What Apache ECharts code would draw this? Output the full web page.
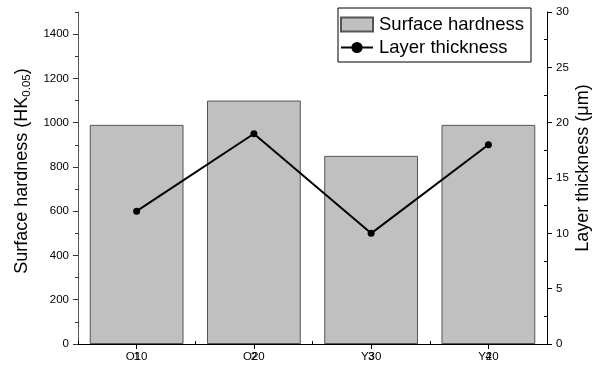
<!DOCTYPE html>
<html>
<head>
<meta charset="utf-8">
<script src="https://cdn.jsdelivr.net/npm/echarts@6/dist/echarts.min.js"></script>
<style>
html,body{margin:0;padding:0;background:#fff;}
#chart{width:595px;height:367px;}
</style>
</head>
<body>
<div id="chart"></div>
<script>
const categories = ['O10', 'O20', 'Y30', 'Y20'];
const overlayLabels = ['1', '2', '3', '4'];
const hardness = [990, 1100, 850, 990];
const thickness = [12, 19, 10, 18];
const leftLabels = [0, 200, 400, 600, 800, 1000, 1200, 1400];
const leftMinor = [100, 300, 500, 700, 900, 1100, 1300, 1500];
const rightLabels = [0, 5, 10, 15, 20, 25, 30];
const rightMinor = [2.5, 7.5, 12.5, 17.5, 22.5, 27.5];

const FONT = 'Liberation Sans, Arial, sans-serif';
const chart = echarts.init(document.getElementById('chart'), null, {renderer: 'canvas'});
const plain = v => String(v);

const option = {
  animation: false,
  backgroundColor: '#fff',
  grid: {left: 78, right: 48, top: 12, bottom: 23, containLabel: false, outerBoundsMode: 'none'},
  legend: {
    orient: 'vertical',
    left: 338, top: 8,
    padding: [7, 7, 5, 2],
    itemGap: 4,
    itemWidth: 32, itemHeight: 14,
    borderColor: '#000', borderWidth: 1,
    backgroundColor: '#fff',
    textStyle: {fontFamily: FONT, fontSize: 18.5, color: '#000', padding: [0, 0, 0, 1]},
    data: [{name: 'Surface hardness', icon: 'rect'}, {name: 'Layer thickness'}]
  },
  xAxis: [
    {
      type: 'category', data: categories, position: 'bottom',
      axisLine: {show: true, lineStyle: {color: '#000', width: 1}},
      axisTick: {show: true, alignWithLabel: true, inside: false, length: 5, lineStyle: {color: '#000'}},
      axisLabel: {fontFamily: FONT, fontSize: 11.5, color: '#000', margin: 7},
      splitLine: {show: false}
    },
    {
      type: 'category', data: overlayLabels, position: 'bottom',
      axisLine: {show: false},
      axisTick: {show: true, inside: true, length: 3, lineStyle: {color: '#000'}},
      axisLabel: {fontFamily: FONT, fontSize: 11.5, color: '#000', margin: 7},
      splitLine: {show: false}
    }
  ],
  yAxis: [
    {
      type: 'value', position: 'left', min: 0, max: 1500,
      name: '{a|Surface hardness (HK}{s|0.05}{a|)}',
      nameLocation: 'middle', nameRotate: 90, nameGap: 45, nameMoveOverlap: false,
      nameTextStyle: {padding: [0, 0, 0, 14], rich: {
        a: {fontFamily: FONT, fontSize: 18, color: '#000'},
        s: {fontFamily: FONT, fontSize: 11.5, color: '#000', verticalAlign: 'bottom', padding: [10, 0, 0, 0]}
      }},
      axisLine: {show: true, lineStyle: {color: '#555', width: 1}},
      axisTick: {show: true, inside: false, length: 5, customValues: leftLabels, lineStyle: {color: '#333'}},
      axisLabel: {fontFamily: FONT, fontSize: 11.5, color: '#000', margin: 9, customValues: leftLabels, formatter: plain},
      splitLine: {show: false}
    },
    {
      type: 'value', position: 'right', min: 0, max: 30,
      name: 'Layer thickness (μm)',
      nameLocation: 'middle', nameRotate: 90, nameGap: 27, nameMoveOverlap: false,
      nameTextStyle: {fontFamily: FONT, fontSize: 18, color: '#000', padding: [0, 0, 0, 20]},
      axisLine: {show: true, lineStyle: {color: '#000', width: 1}},
      axisTick: {show: true, inside: false, length: 5, customValues: rightLabels, lineStyle: {color: '#000'}},
      axisLabel: {fontFamily: FONT, fontSize: 11.5, color: '#000', margin: 9, customValues: rightLabels, formatter: plain},
      splitLine: {show: false}
    },
    {
      type: 'value', position: 'left', min: 0, max: 1500,
      axisLine: {show: false},
      axisTick: {show: true, inside: false, length: 3, customValues: leftMinor, lineStyle: {color: '#333'}},
      axisLabel: {show: false},
      splitLine: {show: false}
    },
    {
      type: 'value', position: 'right', min: 0, max: 30,
      axisLine: {show: false},
      axisTick: {show: true, inside: true, length: 3, customValues: rightMinor, lineStyle: {color: '#000'}},
      axisLabel: {show: false},
      splitLine: {show: false}
    }
  ],
  series: [
    {
      name: 'Surface hardness', type: 'bar', xAxisIndex: 0, yAxisIndex: 0,
      data: hardness, barWidth: '80%',
      itemStyle: {color: '#c0c0c0', borderColor: '#555', borderWidth: 1}
    },
    {
      name: 'Layer thickness', type: 'line', xAxisIndex: 0, yAxisIndex: 1,
      data: thickness, symbol: 'circle', symbolSize: 7,
      lineStyle: {color: '#000', width: 2},
      itemStyle: {color: '#000'}
    }
  ]
};
chart.setOption(option);
</script>
</body>
</html>
